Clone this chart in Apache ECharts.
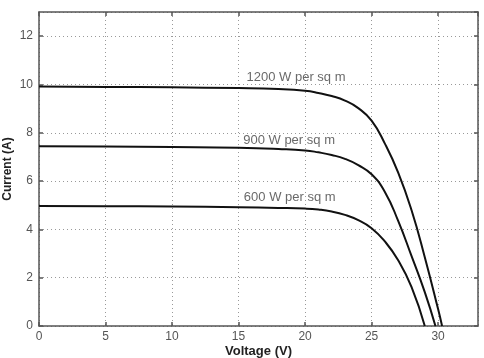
<!DOCTYPE html>
<html><head><meta charset="utf-8">
<script src="https://cdn.jsdelivr.net/npm/echarts@6/dist/echarts.min.js"></script>
<style>html,body{margin:0;padding:0;background:#fff}#c{width:484px;height:358px}</style>
</head><body><div id="c"></div>
<script>
const v1200 = [0, 5, 10, 15, 18, 20, 21, 22, 23, 24, 25, 26, 27, 28, 29, 30, 30.3];
const i1200 = [9.92, 9.9, 9.88, 9.85, 9.81, 9.74, 9.65, 9.52, 9.33, 9.02, 8.5, 7.55, 6.35, 4.8, 2.85, 0.7, 0];
const v900 = [0, 5, 10, 15, 18, 20, 21, 22, 23, 24, 25, 26, 27, 28, 29, 29.8];
const i900 = [7.44, 7.43, 7.41, 7.38, 7.33, 7.27, 7.19, 7.08, 6.92, 6.66, 6.28, 5.55, 4.35, 2.9, 1.4, 0];
const v600 = [0, 5, 10, 15, 18, 20, 21, 22, 23, 24, 25, 26, 27, 28, 29];
const i600 = [4.97, 4.96, 4.95, 4.92, 4.89, 4.86, 4.82, 4.74, 4.6, 4.38, 4.05, 3.5, 2.72, 1.62, 0];
const curveLabels = ['1200 W per sq m', '900 W per sq m', '600 W per sq m'];
const labelV = [15.6, 15.35, 15.4];
const labelI = [10.3, 7.68, 5.32];
const xTicks = { min: 0, max: 33, interval: 5 };
const yTicks = { min: 0, max: 13, interval: 2 };

const pair = (xs, ys) => xs.map((x, k) => [x, ys[k]]);
const font = 'Liberation Sans, Arial, sans-serif';
const tickCol = '#555';
const axisCol = '#555';

const chart = echarts.init(document.getElementById('c'));
const xBase = {
  type: 'value', min: xTicks.min, max: xTicks.max, interval: xTicks.interval,
  axisLine: { show: true, onZero: false, lineStyle: { color: axisCol, width: 1.5 } },
  axisTick: { show: true, inside: true, length: 4, lineStyle: { color: axisCol, width: 1.5 } },
};
const yBase = {
  type: 'value', min: yTicks.min, max: yTicks.max, interval: yTicks.interval,
  axisLine: { show: true, onZero: false, lineStyle: { color: axisCol, width: 1.5 } },
  axisTick: { show: true, inside: true, length: 4, lineStyle: { color: axisCol, width: 1.5 } },
};
const lineSeries = (data) => ({
  type: 'line', data, smooth: 0.5, showSymbol: false,
  lineStyle: { color: '#111', width: 2 }, z: 3, silent: true
});
chart.setOption({
  animation: false,
  grid: { left: 39, right: 6, top: 12, bottom: 32, containLabel: false, outerBoundsMode: 'none' },
  xAxis: [
    Object.assign({}, xBase, {
      position: 'bottom',
      name: 'Voltage (V)', nameLocation: 'middle', nameGap: 19, nameMoveOverlap: false,
      nameTextStyle: { fontFamily: font, fontSize: 13, fontWeight: 'bold', color: '#222' },
      axisLabel: { showMaxLabel: false, color: tickCol, fontFamily: font, fontSize: 12, margin: 5 },
      splitLine: { show: true, lineStyle: { color: '#999', type: [1, 3], width: 1 } }
    }),
    Object.assign({}, xBase, { position: 'top', axisLabel: { show: false }, splitLine: { show: false } })
  ],
  yAxis: [
    Object.assign({}, yBase, {
      position: 'left',
      name: 'Current (A)', nameLocation: 'middle', nameGap: 25, nameRotate: 90, nameMoveOverlap: false,
      nameTextStyle: { fontFamily: font, fontSize: 12, fontWeight: 'bold', color: '#222' },
      axisLabel: { showMaxLabel: false, color: tickCol, fontFamily: font, fontSize: 12, margin: 6 },
      splitLine: { show: true, lineStyle: { color: '#999', type: [1, 3], width: 1 } }
    }),
    Object.assign({}, yBase, { position: 'right', axisLabel: { show: false }, splitLine: { show: false } })
  ],
  series: [
    lineSeries(pair(v1200, i1200)),
    lineSeries(pair(v900, i900)),
    lineSeries(pair(v600, i600)),
    {
      type: 'scatter', symbolSize: 0, silent: true,
      data: curveLabels.map((t, k) => [labelV[k], labelI[k], t]),
      label: {
        show: true, position: 'right', distance: 0,
        formatter: p => p.value[2],
        color: '#444', fontFamily: font, fontSize: 13
      }
    }
  ]
});
</script></body></html>
